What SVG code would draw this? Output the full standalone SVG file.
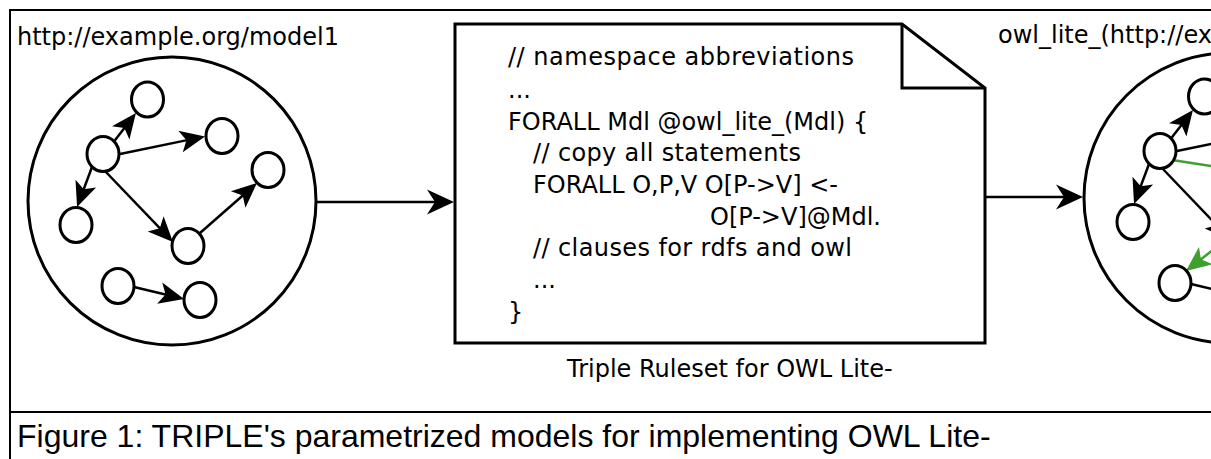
<svg xmlns="http://www.w3.org/2000/svg" width="1211" height="459" viewBox="0 0 1211 459">
<style>
.frame{stroke:#000;stroke-width:2;fill:none}
.big{fill:#fff;stroke:#000;stroke-width:3}
.node{fill:#fff;stroke:#000;stroke-width:3}
.edge{stroke:#000;stroke-width:2.5;fill:none}
.green{stroke:#3f9f2f}
.lbl{font-family:"DejaVu Sans","Bitstream Vera Sans",sans-serif;font-size:24px;fill:#000}
.cap{font-family:"Liberation Sans",Arial,sans-serif;font-size:32px;fill:#000}
</style>
<defs>
<marker id="ah" markerUnits="userSpaceOnUse" markerWidth="25" markerHeight="22" viewBox="0 0 25 22" refX="8" refY="11" orient="auto" overflow="visible">
<path d="M25,11 L0,0 L6,11 L0,22 Z" fill="#000"/>
</marker>
<marker id="ahg" markerUnits="userSpaceOnUse" markerWidth="25" markerHeight="22" viewBox="0 0 25 22" refX="8" refY="11" orient="auto" overflow="visible">
<path d="M25,11 L0,0 L6,11 L0,22 Z" fill="#3f9f2f"/>
</marker>
<marker id="ahb" markerUnits="userSpaceOnUse" markerWidth="27" markerHeight="25" viewBox="0 0 27 25" refX="10" refY="12.5" orient="auto" overflow="visible">
<path d="M27,12.5 L0,0 L8,12.5 L0,25 Z" fill="#000"/>
</marker>
</defs>
<rect width="1211" height="459" fill="#fff"/>
<g id="frame">
<path class="frame" d="M10,459 V10 H1211 M10,412 H1211"/>
</g>
<text class="cap" x="17" y="447">Figure 1: TRIPLE's parametrized models for implementing OWL Lite-</text>

<g id="model1">
<circle class="big" cx="172" cy="201" r="144"/>
<text class="lbl" x="17" y="45">http://example.org/model1</text>
</g>
<g id="ruleset">
<path d="M455,24 H902 L985,88 V343 H455 Z" fill="#fff" stroke="#000" stroke-width="3" stroke-linejoin="miter"/>
<path d="M902,24 V88 H985" fill="none" stroke="#000" stroke-width="3"/>
<text class="lbl" x="508" y="65" textLength="346">// namespace abbreviations</text>
<text class="lbl" x="508" y="98">...</text>
<text class="lbl" x="508" y="130">FORALL Mdl @owl_lite_(Mdl) {</text>
<text class="lbl" x="533" y="161" textLength="268">// copy all statements</text>
<text class="lbl" x="533" y="193">FORALL O,P,V O[P-&gt;V] &lt;-</text>
<text class="lbl" x="710" y="225">O[P-&gt;V]@Mdl.</text>
<text class="lbl" x="533" y="256" textLength="319">// clauses for rdfs and owl</text>
<text class="lbl" x="533" y="288">...</text>
<text class="lbl" x="508" y="320">}</text>
<text class="lbl" x="567" y="377">Triple Ruleset for OWL Lite-</text>
</g>
<g id="owllite">
<circle class="big" cx="1229" cy="198" r="145"/>
<text class="lbl" x="998" y="43">owl_lite_(http://ex</text>
</g>

<g id="connectors">
<line class="edge" x1="317" y1="202" x2="437" y2="202" marker-end="url(#ahb)"/>
<line class="edge" x1="985" y1="197" x2="1066" y2="197" marker-end="url(#ahb)"/>
<line class="edge" x1="114" y1="141.6" x2="125.6" y2="126.5" marker-end="url(#ah)"/>
<line class="edge" x1="120" y1="154" x2="188.4" y2="139.9" marker-end="url(#ah)"/>
<line class="edge" x1="92" y1="167" x2="83" y2="191.1" marker-end="url(#ah)"/>
<line class="edge" x1="104" y1="170" x2="161.2" y2="229.7" marker-end="url(#ah)"/>
<line class="edge" x1="200" y1="233" x2="244.2" y2="194.2" marker-end="url(#ah)"/>
<line class="edge" x1="134" y1="287" x2="167.5" y2="295" marker-end="url(#ah)"/>
<line class="edge" x1="1171" y1="138.6" x2="1182.6" y2="123.5" marker-end="url(#ah)"/>
<line class="edge" x1="1177" y1="151" x2="1245.4" y2="136.9" marker-end="url(#ah)"/>
<line class="edge" x1="1149" y1="164" x2="1140" y2="188.1" marker-end="url(#ah)"/>
<line class="edge" x1="1161" y1="167" x2="1218.2" y2="226.7" marker-end="url(#ah)"/>
<line class="edge" x1="1257" y1="230" x2="1301.2" y2="191.2" marker-end="url(#ah)"/>
<line class="edge" x1="1191" y1="284" x2="1224.5" y2="292" marker-end="url(#ah)"/>
<line class="edge green" x1="1172" y1="160" x2="1300" y2="180"/>
<line class="edge green" x1="1277" y1="200" x2="1199.4" y2="260.5" marker-end="url(#ahg)"/>
</g>

<g id="m1-n1"><ellipse class="node" cx="147.5" cy="99.5" rx="16" ry="17.5"/></g>
<g id="m1-hub"><ellipse class="node" cx="103" cy="154" rx="16" ry="17.5"/></g>
<g id="m1-n3"><ellipse class="node" cx="222" cy="136" rx="16" ry="17.5"/></g>
<g id="m1-n4"><ellipse class="node" cx="268" cy="170" rx="16" ry="17.5"/></g>
<g id="m1-n5"><ellipse class="node" cx="76" cy="225" rx="16" ry="17.5"/></g>
<g id="m1-n6"><ellipse class="node" cx="188" cy="246" rx="16" ry="17.5"/></g>
<g id="m1-n7"><ellipse class="node" cx="118" cy="286" rx="16" ry="17.5"/></g>
<g id="m1-n8"><ellipse class="node" cx="200" cy="300" rx="16" ry="17.5"/></g>

<g id="m2-n1"><ellipse class="node" cx="1204.5" cy="96.5" rx="16" ry="17.5"/></g>
<g id="m2-hub"><ellipse class="node" cx="1160" cy="151" rx="16" ry="17.5"/></g>
<g id="m2-n5"><ellipse class="node" cx="1133" cy="222" rx="16" ry="17.5"/></g>
<g id="m2-n7"><ellipse class="node" cx="1175" cy="283" rx="16" ry="17.5"/></g>
</svg>
